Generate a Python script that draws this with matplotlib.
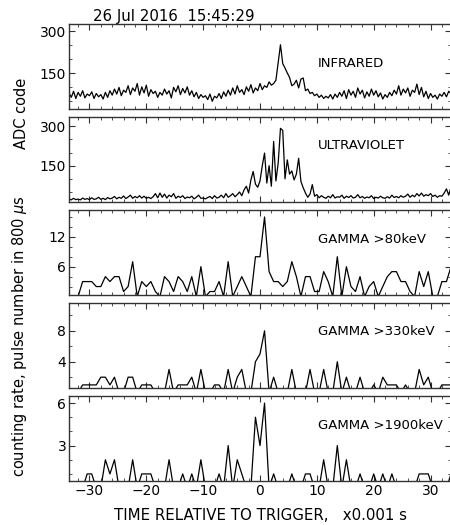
import numpy as np
import matplotlib
matplotlib.use("Agg")
import matplotlib.pyplot as plt
from matplotlib.ticker import MultipleLocator

# ---------------- data ----------------
title = "26 Jul 2016  15:45:29"
t_start = -33.6          # ms
adc_step = 0.4           # ms, sampling of the optical channels
gamma_step = 0.8         # ms, gamma bins

ir_values = [
    78, 62, 84, 58, 80, 66, 86, 60, 74, 68,
    82, 58, 76, 64, 72, 56, 80, 62, 86, 70,
    92, 74, 98, 68, 88, 80, 104, 72, 96, 84,
    112, 70, 100, 78, 106, 66, 90, 76, 84, 62,
    80, 70, 92, 74, 86, 60, 98, 82, 104, 72,
    94, 78, 100, 70, 86, 64, 80, 58, 72, 62,
    68, 54, 74, 48, 66, 60, 76, 58, 82, 66,
    88, 70, 96, 74, 104, 80, 90, 72, 100, 84,
    108, 78, 96, 86, 112, 90, 104, 98, 118, 106,
    112, 124, 188, 252, 184, 168, 150, 134, 104, 110,
    124, 96, 128, 132, 86, 92, 76, 80, 68, 74,
    62, 70, 58, 66, 60, 72, 56, 74, 62, 80,
    66, 86, 58, 90, 70, 84, 62, 96, 74, 88,
    60, 82, 66, 92, 70, 86, 64, 78, 56, 72,
    62, 80, 68, 88, 74, 104, 70, 92, 78, 96,
    66, 88, 80, 110, 72, 98, 64, 84, 58, 76,
    62, 70, 56, 74, 66, 80, 64, 84, 76,
]

uv_values = [
    24, 20, 26, 21, 23, 20, 27, 22, 25, 21,
    28, 22, 24, 30, 22, 26, 21, 29, 24, 27,
    33, 24, 30, 26, 35, 25, 31, 38, 26, 33,
    28, 36, 27, 34, 26, 30, 25, 32, 44, 28,
    46, 30, 42, 27, 38, 32, 44, 26, 34, 29,
    36, 25, 31, 28, 34, 24, 30, 38, 26, 27,
    24, 29, 33, 25, 36, 27, 30, 38, 28, 44,
    30, 36, 44, 32, 40, 50, 36, 58, 72, 46,
    96, 128, 80, 68, 92, 150, 198, 84, 150, 72,
    242, 92, 160, 292, 284, 100, 172, 118, 130, 96,
    118, 178, 90, 66, 46, 30, 42, 78, 34, 40,
    28, 36, 30, 26, 34, 28, 40, 27, 32, 30,
    38, 26, 34, 29, 36, 27, 30, 40, 28, 33,
    26, 31, 28, 36, 25, 30, 27, 34, 28, 26,
    32, 27, 38, 29, 33, 28, 36, 30, 34, 42,
    30, 38, 32, 44, 35, 46, 34, 40, 36, 44,
    33, 38, 30, 36, 34, 46, 62, 38, 68,
]

# gamma counts per 0.8 ms bin, bins from -33.6 to 33.6 ms
gamma80 = [
    0, 0, 0, 3, 3, 3, 2, 2, 4, 3,
    4, 4, 1, 2, 7, 0, 3, 2, 3, 1,
    0, 4, 3, 1, 4, 3, 1, 4, 0, 6,
    0, 1, 1, 3, 0, 7, 0, 2, 4, 2,
    0, 8, 8, 16, 5, 3, 3, 2, 3, 7,
    4, 0, 4, 4, 1, 1, 5, 3, 0, 8,
    0, 6, 2, 1, 4, 0, 2, 3, 0, 2,
    4, 5, 5, 3, 3, 1, 0, 5, 2, 5,
    0, 0, 3, 3, 6, 6,
]
gamma330 = [
    0, 0, 0, 1, 1, 1, 1, 2, 2, 1,
    2, 0, 0, 2, 2, 0, 1, 1, 1, 0,
    0, 0, 3, 0, 1, 1, 1, 2, 0, 3,
    0, 0, 1, 1, 0, 3, 0, 2, 3, 0,
    0, 4, 5, 8, 0, 2, 0, 0, 0, 3,
    0, 0, 0, 3, 0, 0, 3, 0, 0, 4,
    0, 2, 0, 0, 2, 0, 0, 1, 0, 2,
    1, 1, 1, 0, 1, 0, 0, 3, 1, 2,
    0, 0, 1, 1, 1, 1,
]
gamma1900 = [
    0, 0, 0, 0, 1, 1, 0, 0, 2, 1,
    2, 0, 0, 0, 2, 0, 1, 1, 1, 0,
    0, 0, 2, 0, 0, 1, 0, 1, 0, 2,
    0, 0, 0, 1, 0, 3, 0, 2, 1, 0,
    0, 5, 3, 6, 0, 1, 0, 0, 0, 1,
    0, 0, 1, 1, 0, 0, 2, 0, 0, 3,
    0, 2, 0, 0, 1, 0, 0, 1, 0, 1,
    0, 1, 0, 0, 0, 0, 0, 1, 1, 1,
    0, 0, 0, 0, 1, 1,
]

panel_labels = ["INFRARED", "ULTRAVIOLET", "GAMMA >80keV",
                "GAMMA >330keV", "GAMMA >1900keV"]
ylims = [(20, 327), (12, 335), (0.3, 17.4), (0.6, 11.6), (0.5, 6.5)]
major_steps = [150, 150, 6, 4, 3]
minor_steps = [50, 50, 2, 2, 1]
label_y = [0.54, 0.66, 0.65, 0.66, 0.65]
xlabel = "TIME RELATIVE TO TRIGGER,   x0.001 s"
ylabel_adc = "ADC code"
ylabel_cnt = r"counting rate, pulse number in 800 $\mu$s"

t_adc = t_start + adc_step * np.arange(len(ir_values))
t_gam = t_start + gamma_step * np.arange(len(gamma80))
series = [(t_adc, ir_values), (t_adc, uv_values), (t_gam, gamma80),
          (t_gam, gamma330), (t_gam, gamma1900)]

# ---------------- figure ----------------
W, H = 450, 525
fig = plt.figure(figsize=(W / 100, H / 100), dpi=100)
plt.rcParams['font.family'] = ['DejaVu Sans']

left_px, width_px, height_px = 69, 382, 85
tops = [24, 117, 210, 303, 396]
axes = []
for i, top in enumerate(tops):
    ax = fig.add_axes([left_px / W, 1 - (top + height_px) / H,
                       width_px / W, height_px / H])
    x, y = series[i]
    ax.plot(x, y, color='black', lw=0.9)
    ax.set_xlim(-33.6, 33.6)
    ax.set_ylim(*ylims[i])
    ax.xaxis.set_major_locator(MultipleLocator(10))
    ax.xaxis.set_minor_locator(MultipleLocator(2))
    ax.yaxis.set_major_locator(MultipleLocator(major_steps[i]))
    ax.yaxis.set_minor_locator(MultipleLocator(minor_steps[i]))
    ax.tick_params(which='both', direction='in', top=True, right=True,
                   color='#333333')
    ax.tick_params(which='major', length=4, width=0.8, labelsize=10, pad=2)
    ax.tick_params(which='minor', length=2, width=0.6)
    for s in ax.spines.values():
        s.set_color('#333333')
        s.set_linewidth(1.0)
    if i < 4:
        ax.tick_params(labelbottom=False)
    ax.text(0.651, label_y[i], panel_labels[i], transform=ax.transAxes,
            fontsize=9.5, ha='left', va='center')
    axes.append(ax)

axes[-1].set_xlabel(xlabel, fontsize=10.8, labelpad=7)
fig.text(93 / W, 1 - 16 / H, title, fontsize=10.8, ha='left', va='center')
fig.text(22 / W, 1 - 113 / H, ylabel_adc, rotation=90, fontsize=10.5,
         ha='center', va='center')
fig.text(20 / W, 1 - 336 / H, ylabel_cnt, rotation=90, fontsize=10.5,
         ha='center', va='center')

fig.savefig("out.png", dpi=100)
